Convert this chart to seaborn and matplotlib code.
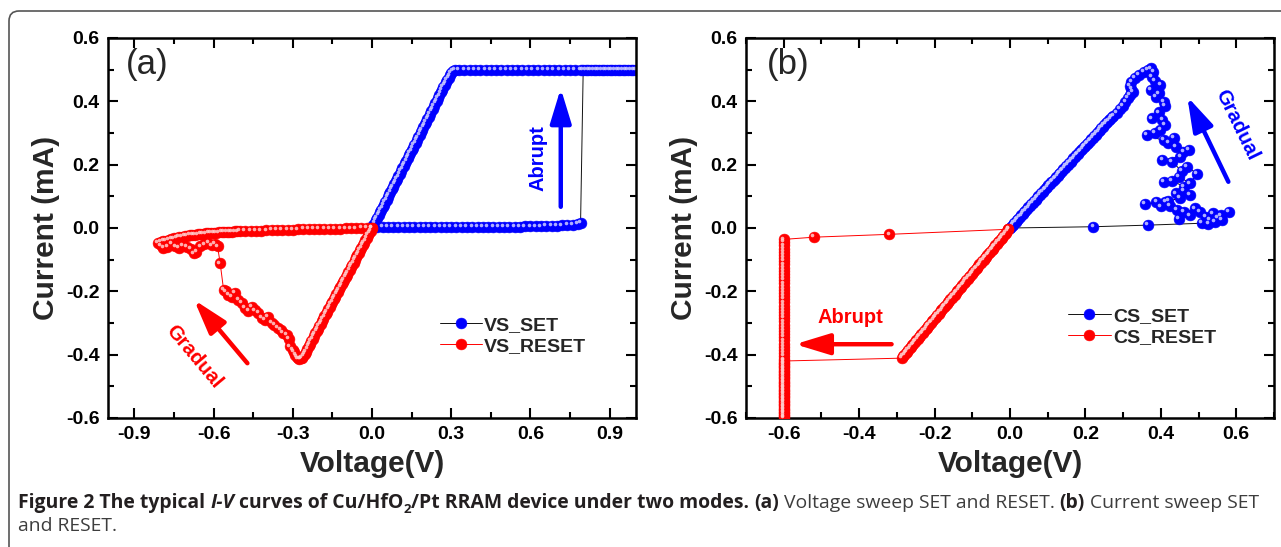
import numpy as np
import pandas as pd
import matplotlib
matplotlib.use("Agg")
import matplotlib.pyplot as plt
import seaborn as sns
from matplotlib import font_manager
from matplotlib.transforms import ScaledTranslation, IdentityTransform
from matplotlib.patches import FancyBboxPatch
from matplotlib.ticker import MultipleLocator, FormatStrFormatter
from matplotlib.font_manager import FontProperties

# ------------------------------------------------------------------ data
# (a) voltage sweep SET : (V, mA)
vs_set_hrs = [(0.00, 0.000), (0.02, 0.002), (0.04, 0.003), (0.06, 0.003), (0.08, 0.003),
              (0.10, 0.003), (0.12, 0.003), (0.14, 0.003), (0.16, 0.003), (0.18, 0.003),
              (0.20, 0.003), (0.22, 0.003), (0.24, 0.003), (0.26, 0.003), (0.28, 0.003),
              (0.30, 0.003), (0.32, 0.003), (0.34, 0.003), (0.36, 0.003), (0.38, 0.004),
              (0.40, 0.004), (0.42, 0.004), (0.44, 0.004), (0.46, 0.004), (0.48, 0.004),
              (0.50, 0.004), (0.52, 0.004), (0.54, 0.004), (0.56, 0.004), (0.58, 0.005),
              (0.60, 0.005), (0.62, 0.005), (0.64, 0.005), (0.66, 0.006), (0.68, 0.006),
              (0.70, 0.007), (0.72, 0.008), (0.74, 0.009), (0.76, 0.011), (0.78, 0.013),
              (0.79, 0.015)]
vs_set_cc_i = 0.5          # compliance current (mA)
vs_set_cc_v = [0.80, 0.82, 0.84, 0.86, 0.88, 0.90, 0.92, 0.94, 0.96, 0.98, 1.00, 0.99,
               0.97, 0.95, 0.93, 0.91, 0.89, 0.87, 0.85, 0.83, 0.81, 0.79, 0.77, 0.75,
               0.73, 0.71, 0.69, 0.67, 0.65, 0.63, 0.61, 0.59, 0.57, 0.55, 0.53, 0.51,
               0.49, 0.47, 0.45, 0.43, 0.41, 0.39, 0.37, 0.35, 0.33, 0.315]
vs_set_lrs = [(0.305, 0.495), (0.30, 0.490), (0.295, 0.482), (0.29, 0.474), (0.285, 0.467),
              (0.28, 0.460), (0.275, 0.452), (0.27, 0.445), (0.265, 0.436), (0.26, 0.428),
              (0.255, 0.419), (0.25, 0.411), (0.245, 0.402), (0.24, 0.394), (0.235, 0.385),
              (0.23, 0.377), (0.225, 0.369), (0.22, 0.360), (0.215, 0.352), (0.21, 0.344),
              (0.205, 0.336), (0.20, 0.327), (0.195, 0.319), (0.19, 0.311), (0.185, 0.303),
              (0.18, 0.294), (0.175, 0.286), (0.17, 0.278), (0.165, 0.270), (0.16, 0.262),
              (0.155, 0.254), (0.15, 0.245), (0.145, 0.237), (0.14, 0.229), (0.135, 0.221),
              (0.13, 0.212), (0.125, 0.204), (0.12, 0.196), (0.115, 0.188), (0.11, 0.180),
              (0.105, 0.172), (0.10, 0.163), (0.095, 0.155), (0.09, 0.147), (0.085, 0.139),
              (0.08, 0.131), (0.075, 0.123), (0.07, 0.114), (0.065, 0.106), (0.06, 0.098),
              (0.055, 0.090), (0.05, 0.082), (0.045, 0.074), (0.04, 0.065), (0.035, 0.057),
              (0.03, 0.049), (0.025, 0.041), (0.02, 0.033), (0.015, 0.025), (0.01, 0.016),
              (0.005, 0.008), (0.00, 0.000)]

# (a) voltage sweep RESET
vs_reset_lrs = [(0.00, 0.000), (-0.005, -0.008), (-0.01, -0.016), (-0.015, -0.023), (-0.02, -0.031),
                (-0.025, -0.039), (-0.03, -0.047), (-0.035, -0.054), (-0.04, -0.062), (-0.045, -0.070),
                (-0.05, -0.078), (-0.055, -0.085), (-0.06, -0.093), (-0.065, -0.101), (-0.07, -0.109),
                (-0.075, -0.116), (-0.08, -0.124), (-0.085, -0.132), (-0.09, -0.140), (-0.095, -0.147),
                (-0.10, -0.155), (-0.105, -0.163), (-0.11, -0.171), (-0.115, -0.178), (-0.12, -0.186),
                (-0.125, -0.194), (-0.13, -0.202), (-0.135, -0.209), (-0.14, -0.217), (-0.145, -0.225),
                (-0.15, -0.233), (-0.155, -0.240), (-0.16, -0.248), (-0.165, -0.256), (-0.17, -0.264),
                (-0.175, -0.271), (-0.18, -0.279), (-0.185, -0.287), (-0.19, -0.295), (-0.195, -0.302),
                (-0.20, -0.310), (-0.205, -0.318), (-0.21, -0.326), (-0.215, -0.333), (-0.22, -0.341),
                (-0.225, -0.349), (-0.23, -0.357), (-0.235, -0.365), (-0.24, -0.373), (-0.245, -0.382),
                (-0.25, -0.390), (-0.255, -0.397), (-0.26, -0.403), (-0.265, -0.410), (-0.27, -0.412),
                (-0.275, -0.413), (-0.28, -0.412), (-0.285, -0.408)]
vs_reset_gradual = [(-0.29, -0.400), (-0.295, -0.392), (-0.30, -0.385), (-0.31, -0.374),
                    (-0.315, -0.350), (-0.323, -0.337), (-0.336, -0.332), (-0.345, -0.322),
                    (-0.355, -0.316), (-0.37, -0.305), (-0.38, -0.300), (-0.393, -0.280),
                    (-0.405, -0.290), (-0.418, -0.285), (-0.43, -0.268), (-0.443, -0.260),
                    (-0.455, -0.248), (-0.468, -0.262), (-0.48, -0.253), (-0.492, -0.236),
                    (-0.506, -0.227), (-0.519, -0.205), (-0.53, -0.218), (-0.544, -0.210),
                    (-0.553, -0.200), (-0.562, -0.196), (-0.575, -0.112), (-0.585, -0.058)]
vs_reset_tail = [(-0.595, -0.050), (-0.605, -0.055), (-0.62, -0.048), (-0.635, -0.052),
                 (-0.65, -0.058), (-0.665, -0.075), (-0.675, -0.080), (-0.685, -0.066),
                 (-0.70, -0.060), (-0.715, -0.055), (-0.73, -0.062), (-0.745, -0.058),
                 (-0.76, -0.050), (-0.775, -0.060), (-0.79, -0.062), (-0.80, -0.055),
                 (-0.81, -0.048)]
vs_reset_return = [(-0.80, -0.045), (-0.79, -0.042), (-0.78, -0.040), (-0.77, -0.037),
                   (-0.76, -0.035), (-0.75, -0.033), (-0.74, -0.031), (-0.73, -0.029),
                   (-0.72, -0.028), (-0.71, -0.026), (-0.70, -0.025), (-0.69, -0.023),
                   (-0.68, -0.022), (-0.67, -0.021), (-0.66, -0.020), (-0.65, -0.019),
                   (-0.64, -0.018), (-0.63, -0.017), (-0.62, -0.016), (-0.61, -0.0155),
                   (-0.60, -0.015), (-0.59, -0.0145), (-0.58, -0.014), (-0.57, -0.0135),
                   (-0.56, -0.013), (-0.55, -0.0125), (-0.54, -0.012), (-0.53, -0.0115),
                   (-0.52, -0.011), (-0.51, -0.0105), (-0.50, -0.010),
                   (-0.48, -0.0095), (-0.46, -0.009), (-0.44, -0.0085), (-0.42, -0.008),
                   (-0.40, -0.0075), (-0.38, -0.007), (-0.36, -0.0065), (-0.34, -0.006),
                   (-0.32, -0.0055), (-0.30, -0.005), (-0.28, -0.0045), (-0.26, -0.004),
                   (-0.24, -0.0038), (-0.22, -0.0035), (-0.20, -0.003), (-0.18, -0.0028),
                   (-0.16, -0.0025), (-0.14, -0.002), (-0.12, -0.0018), (-0.10, -0.0015),
                   (-0.08, -0.0012), (-0.06, -0.001), (-0.04, -0.0007), (-0.02, -0.0003),
                   (0.00, 0.000)]

# (b) current sweep SET
cs_set_gradual = [(0.000, 0.000), (0.221, 0.004), (0.365, 0.009), (0.508, 0.015), (0.526, 0.012),
                  (0.544, 0.018), (0.561, 0.025), (0.552, 0.032), (0.530, 0.026), (0.581, 0.052),
                  (0.560, 0.040), (0.539, 0.046), (0.520, 0.034), (0.504, 0.050), (0.491, 0.062),
                  (0.478, 0.040), (0.462, 0.052), (0.447, 0.030), (0.443, 0.056), (0.425, 0.070),
                  (0.412, 0.082), (0.400, 0.068), (0.388, 0.082), (0.357, 0.075), (0.420, 0.085),
                  (0.450, 0.094), (0.478, 0.104), (0.460, 0.118), (0.439, 0.109), (0.461, 0.130),
                  (0.430, 0.150), (0.408, 0.146), (0.448, 0.162), (0.478, 0.141), (0.496, 0.172),
                  (0.470, 0.193), (0.455, 0.180), (0.430, 0.209), (0.404, 0.215), (0.452, 0.225),
                  (0.474, 0.246), (0.460, 0.240), (0.439, 0.257), (0.408, 0.278), (0.435, 0.284),
                  (0.420, 0.270), (0.364, 0.294), (0.385, 0.300), (0.399, 0.310), (0.410, 0.325),
                  (0.404, 0.341), (0.377, 0.346), (0.395, 0.365), (0.410, 0.385), (0.408, 0.399),
                  (0.386, 0.414), (0.395, 0.425), (0.373, 0.436), (0.399, 0.451), (0.385, 0.465),
                  (0.377, 0.478), (0.380, 0.492), (0.373, 0.504)]
cs_set_top = [(0.365, 0.500), (0.355, 0.494), (0.342, 0.484), (0.332, 0.474), (0.322, 0.462),
              (0.318, 0.450), (0.322, 0.440), (0.326, 0.430), (0.318, 0.420), (0.312, 0.410),
              (0.306, 0.398), (0.300, 0.386), (0.292, 0.375), (0.283, 0.364)]
cs_set_lrs = [(0.274, 0.355), (0.270, 0.350), (0.266, 0.345), (0.262, 0.340), (0.258, 0.335),
              (0.254, 0.330), (0.250, 0.325), (0.246, 0.320), (0.242, 0.315), (0.238, 0.310),
              (0.235, 0.305), (0.231, 0.300), (0.227, 0.295), (0.223, 0.290), (0.219, 0.285),
              (0.215, 0.280), (0.211, 0.275), (0.207, 0.270), (0.203, 0.265), (0.199, 0.260),
              (0.196, 0.255), (0.192, 0.250), (0.188, 0.245), (0.184, 0.240), (0.180, 0.235),
              (0.176, 0.230), (0.172, 0.225), (0.168, 0.220), (0.164, 0.215), (0.161, 0.210),
              (0.157, 0.205), (0.153, 0.200), (0.149, 0.195), (0.145, 0.190), (0.141, 0.185),
              (0.137, 0.180), (0.133, 0.175), (0.129, 0.170), (0.126, 0.165), (0.122, 0.160),
              (0.118, 0.155), (0.114, 0.150), (0.110, 0.145), (0.106, 0.140), (0.102, 0.135),
              (0.099, 0.130), (0.095, 0.125), (0.091, 0.120), (0.087, 0.115), (0.083, 0.110),
              (0.079, 0.105), (0.075, 0.100), (0.072, 0.095), (0.068, 0.090), (0.064, 0.085),
              (0.060, 0.080), (0.056, 0.075), (0.053, 0.070), (0.049, 0.065), (0.045, 0.060),
              (0.041, 0.055), (0.037, 0.050), (0.034, 0.045), (0.030, 0.040), (0.026, 0.035),
              (0.022, 0.030), (0.019, 0.025), (0.015, 0.020), (0.011, 0.015), (0.007, 0.010),
              (0.004, 0.005), (0.000, 0.000)]

# (b) current sweep RESET
cs_reset_lrs = [(-0.004, -0.004), (-0.007, -0.01), (-0.011, -0.015), (-0.014, -0.02), (-0.018, -0.025),
                (-0.021, -0.03), (-0.025, -0.035), (-0.028, -0.04), (-0.032, -0.045), (-0.035, -0.05),
                (-0.039, -0.055), (-0.042, -0.06), (-0.046, -0.065), (-0.049, -0.07), (-0.053, -0.075),
                (-0.056, -0.08), (-0.060, -0.085), (-0.063, -0.09), (-0.067, -0.095), (-0.070, -0.10),
                (-0.074, -0.105), (-0.077, -0.11), (-0.081, -0.115), (-0.084, -0.12), (-0.088, -0.125),
                (-0.091, -0.13), (-0.095, -0.135), (-0.098, -0.14), (-0.102, -0.145), (-0.105, -0.15),
                (-0.109, -0.155), (-0.112, -0.16), (-0.116, -0.165), (-0.119, -0.17), (-0.123, -0.175),
                (-0.126, -0.18), (-0.130, -0.185), (-0.133, -0.19), (-0.137, -0.195), (-0.140, -0.20),
                (-0.144, -0.205), (-0.147, -0.21), (-0.151, -0.215), (-0.154, -0.22), (-0.158, -0.225),
                (-0.161, -0.23), (-0.165, -0.235), (-0.168, -0.24), (-0.172, -0.245), (-0.175, -0.25),
                (-0.179, -0.255), (-0.182, -0.26), (-0.186, -0.265), (-0.189, -0.27), (-0.193, -0.275),
                (-0.196, -0.28), (-0.200, -0.285), (-0.203, -0.29), (-0.207, -0.295), (-0.210, -0.30),
                (-0.214, -0.305), (-0.217, -0.31), (-0.221, -0.315), (-0.224, -0.32), (-0.228, -0.325),
                (-0.231, -0.33), (-0.235, -0.335), (-0.238, -0.34), (-0.242, -0.345), (-0.245, -0.35),
                (-0.249, -0.355), (-0.252, -0.36), (-0.256, -0.365), (-0.259, -0.37), (-0.263, -0.375),
                (-0.266, -0.38), (-0.270, -0.385), (-0.273, -0.39), (-0.277, -0.395), (-0.280, -0.40),
                (-0.284, -0.405), (-0.287, -0.411)]
cs_reset_cc_v = -0.600      # compliance voltage (V)
cs_reset_cc_i = [-0.420, -0.43, -0.44, -0.45, -0.46, -0.47, -0.48, -0.49, -0.50, -0.51, -0.52,
                 -0.53, -0.54, -0.55, -0.56, -0.57, -0.58, -0.59, -0.60, -0.595, -0.585, -0.575,
                 -0.565, -0.555, -0.545, -0.535, -0.525, -0.515, -0.505, -0.495, -0.485, -0.475,
                 -0.465, -0.455, -0.445, -0.435, -0.425, -0.415, -0.405, -0.395, -0.385, -0.375,
                 -0.365, -0.355, -0.345, -0.335, -0.325, -0.315, -0.305, -0.295, -0.285, -0.275,
                 -0.265, -0.255, -0.245, -0.235, -0.225, -0.215, -0.205, -0.195, -0.185, -0.175,
                 -0.165, -0.155, -0.145, -0.135, -0.125, -0.115, -0.105, -0.095, -0.085, -0.075,
                 -0.065, -0.055, -0.045, -0.036]
cs_reset_return = [(-0.520, -0.029), (-0.320, -0.020), (-0.004, -0.004)]

xticks_a = [-0.9, -0.6, -0.3, 0.0, 0.3, 0.6, 0.9]
xticks_b = [-0.6, -0.4, -0.2, 0.0, 0.2, 0.4, 0.6]
yticks = [-0.6, -0.4, -0.2, 0.0, 0.2, 0.4, 0.6]

caption_line1 = [("Figure 2 The typical ", "bold", "normal", False),
                 ("I-V", "bold", "italic", False),
                 (" curves of Cu/HfO", "bold", "normal", False),
                 ("2", "bold", "normal", True),
                 ("/Pt RRAM device under two modes. ", "bold", "normal", False),
                 ("(a)", "bold", "normal", False),
                 (" Voltage sweep SET and RESET. ", "normal", "normal", False),
                 ("(b)", "bold", "normal", False),
                 (" Current sweep SET", "normal", "normal", False)]
caption_line2 = [("and RESET.", "normal", "normal", False)]

# ------------------------------------------------------------------ style
sns.set_style("ticks")
plt.rcParams["font.family"] = ["Liberation Sans", "DejaVu Sans"]
plt.rcParams["font.weight"] = "bold"
plt.rcParams["axes.unicode_minus"] = False

BLUE = "#0000ff"
RED = "#ff0000"

fig = plt.figure(figsize=(12.81, 5.47), dpi=100)
ax_a = fig.add_axes([108 / 1281, 129 / 547, 528 / 1281, 380 / 547])
ax_b = fig.add_axes([746 / 1281, 129 / 547, 528 / 1281, 380 / 547])


def series(*segs):
    pts = [p for s in segs for p in s]
    return pd.DataFrame(pts, columns=["V", "I"])


def draw(ax, df, line_color, mark_color, hi_color, label, z):
    sns.lineplot(data=df, x="V", y="I", ax=ax, sort=False, estimator=None,
                 color=line_color, lw=0.7, marker="o", ms=7.8,
                 mfc=mark_color, mec=mark_color, mew=0.4, label=label, zorder=z)
    off = ScaledTranslation(-1.3 / 72, 1.3 / 72, fig.dpi_scale_trans)
    ax.plot(df["V"], df["I"], ls="none", marker="o", ms=2.6, mfc=hi_color,
            mec="none", alpha=0.85, transform=ax.transData + off, zorder=z + 0.1)


vs_set_cc = [(v, vs_set_cc_i) for v in vs_set_cc_v]
cs_reset_cc = [(cs_reset_cc_v, i) for i in cs_reset_cc_i]

# panel (a)
draw(ax_a, series(vs_set_hrs, vs_set_cc, vs_set_lrs), "#111111", BLUE, "#cfcfff", "VS_SET", 2)
draw(ax_a, series(vs_reset_lrs, vs_reset_gradual, vs_reset_tail, vs_reset_return),
     RED, RED, "#ffcfcf", "VS_RESET", 3)
# panel (b)
draw(ax_b, series(cs_set_gradual, cs_set_top, cs_set_lrs), "#111111", BLUE, "#cfcfff", "CS_SET", 2)
draw(ax_b, series(cs_reset_lrs, cs_reset_cc, cs_reset_return), RED, RED, "#ffcfcf", "CS_RESET", 3)

for ax, xl, xt, minor in [(ax_a, (-1.0, 1.0), xticks_a, 0.15), (ax_b, (-0.7, 0.7), xticks_b, 0.1)]:
    ax.set_xlim(*xl)
    ax.set_ylim(-0.6, 0.6)
    ax.set_xticks(xt)
    ax.set_yticks(yticks)
    ax.xaxis.set_minor_locator(MultipleLocator(minor))
    ax.yaxis.set_minor_locator(MultipleLocator(0.1))
    ax.xaxis.set_major_formatter(FormatStrFormatter("%.1f"))
    ax.yaxis.set_major_formatter(FormatStrFormatter("%.1f"))
    ax.tick_params(which="both", direction="in", top=True, right=True, width=1.5,
                   labelsize=14, pad=6, colors="black")
    ax.tick_params(which="major", length=7)
    ax.tick_params(which="minor", length=4)
    for lab in ax.get_xticklabels() + ax.get_yticklabels():
        lab.set_fontweight("bold")
    for sp in ax.spines.values():
        sp.set_linewidth(1.8)
        sp.set_color("black")
    ax.set_xlabel("Voltage(V)", fontsize=21.5, fontweight="bold")
    ax.set_ylabel("Current (mA)", fontsize=21.5, fontweight="bold")
    ax.xaxis.set_label_coords(0.5, -0.085)
    ax.yaxis.set_label_coords(-0.09, 0.5)
    ax.grid(False)

# legends
ax_a.legend(loc="upper left", bbox_to_anchor=(0.628, 0.268), frameon=False,
            prop=dict(size=14, weight="bold"), handlelength=2.2, handletextpad=0.1,
            labelspacing=0.2, borderpad=0, borderaxespad=0)
ax_b.legend(loc="upper left", bbox_to_anchor=(0.610, 0.292), frameon=False,
            prop=dict(size=14, weight="bold"), handlelength=2.2, handletextpad=0.1,
            labelspacing=0.2, borderpad=0, borderaxespad=0)

# panel labels
ax_a.text(0.034, 0.929, "(a)", transform=ax_a.transAxes, fontsize=25, fontweight="normal",
          ha="left", va="center")
ax_b.text(0.040, 0.929, "(b)", transform=ax_b.transAxes, fontsize=25, fontweight="normal",
          ha="left", va="center")

arrow_kw = dict(arrowstyle="-|>,head_length=1.05,head_width=0.32", lw=3.2,
                mutation_scale=20, shrinkA=0, shrinkB=0)
# (a) annotations
ax_a.annotate("", xy=(0.715, 0.441), xytext=(0.715, 0.067),
              arrowprops=dict(color=BLUE, **arrow_kw))
ax_a.text(0.627, 0.22, "Abrupt", color=BLUE, fontsize=14.5, fontweight="bold",
          rotation=90, ha="center", va="center")
ax_a.annotate("", xy=(-0.674, -0.227), xytext=(-0.472, -0.427),
              arrowprops=dict(color=RED, **arrow_kw))
ax_a.text(-0.674, -0.406, "Gradual", color=RED, fontsize=14.5, fontweight="bold",
          rotation=-50, ha="center", va="center", rotation_mode="anchor")
# (b) annotations
ax_b.annotate("", xy=(-0.570, -0.367), xytext=(-0.314, -0.367),
              arrowprops=dict(color=RED, **arrow_kw))
ax_b.text(-0.424, -0.282, "Abrupt", color=RED, fontsize=14.5, fontweight="bold",
          ha="center", va="center")
ax_b.annotate("", xy=(0.470, 0.415), xytext=(0.579, 0.146),
              arrowprops=dict(color=BLUE, **arrow_kw))
ax_b.text(0.601, 0.325, "Gradual", color=BLUE, fontsize=14.5, fontweight="bold",
          rotation=-64, ha="center", va="center", rotation_mode="anchor")

# figure frame
frame = FancyBboxPatch((9, -40), 1330, 576, boxstyle="round,pad=0,rounding_size=10",
                       transform=IdentityTransform(), fill=False, edgecolor="#555555", lw=1.2)
fig.add_artist(frame)

# caption
names = {f.name for f in font_manager.fontManager.ttflist}
cap_family = "DejaVu Sans"
for cand in ["Open Sans", "Roboto", "Liberation Sans"]:
    if cand in names:
        cap_family = cand
        break

renderer = fig.canvas.get_renderer()


def fp(size, weight, style):
    return FontProperties(family=[cap_family, "DejaVu Sans"], size=size, weight=weight, style=style)


def width(s, prop):
    w, h, d = renderer.get_text_width_height_descent(s, prop, ismath=False)
    return w


def run_width(run, size):
    text, weight, style, sub = run
    sz = size * 0.68 if sub else size
    prop = fp(sz, weight, style)
    sw = width("a a", prop) - width("aa", prop)
    core = text.strip(" ")
    lead = len(text) - len(text.lstrip(" "))
    trail = len(text) - len(text.rstrip(" "))
    return lead * sw, width(core, prop) if core else 0, trail * sw, prop, core


def line_width(runs, size):
    return sum(sum(run_width(r, size)[:3]) for r in runs)


target = 1244.0
size0 = 10.0
cap_size = size0 * target / line_width(caption_line1, size0)
cap_size = min(cap_size, 14.5)


def draw_line(runs, x0, y0, size):
    x = x0
    for r in runs:
        lead, w, trail, prop, core = run_width(r, size)
        x += lead
        dy = -0.28 * size * 100 / 72 if r[3] else 0
        col = "#231f20" if r[1] == "bold" else "#3d3d3d"
        fig.text(x, y0 + dy, core, fontproperties=prop, color=col,
                 transform=IdentityTransform(), ha="left", va="baseline")
        x += w + trail


draw_line(caption_line1, 18, 547 - 508, cap_size)
draw_line(caption_line2, 18, 547 - 531, cap_size)

fig.savefig("out.png", dpi=100)
